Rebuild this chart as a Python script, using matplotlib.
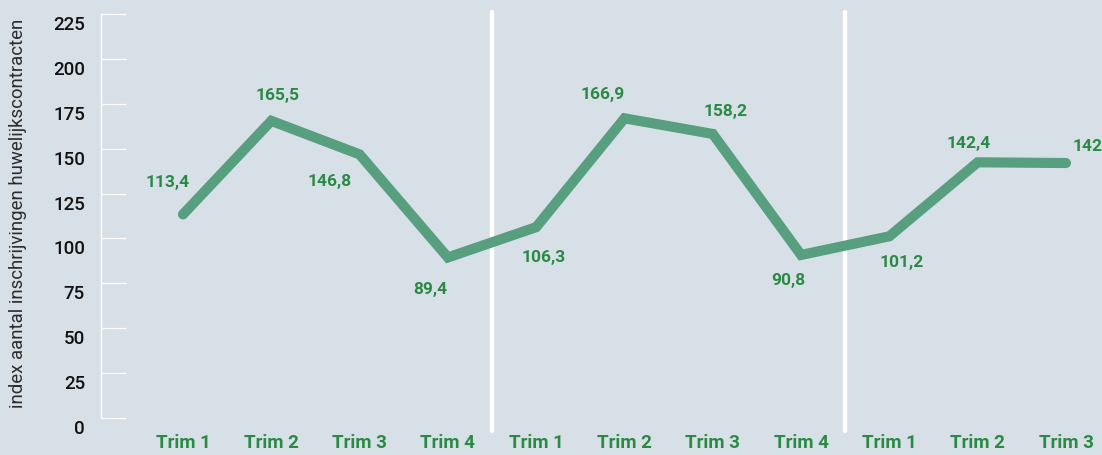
import matplotlib
matplotlib.use("Agg")
import matplotlib.pyplot as plt
from matplotlib.transforms import ScaledTranslation

# ---- data ----
categories = ["Trim 1", "Trim 2", "Trim 3", "Trim 4",
              "Trim 1", "Trim 2", "Trim 3", "Trim 4",
              "Trim 1", "Trim 2", "Trim 3"]
values = [113.4, 165.5, 146.8, 89.4, 106.3, 166.9, 158.2, 90.8, 101.2, 142.4, 142.0]
value_labels = ["113,4", "165,5", "146,8", "89,4", "106,3", "166,9",
                "158,2", "90,8", "101,2", "142,4", "142,0"]
yticks = [0, 25, 50, 75, 100, 125, 150, 175, 200, 225]
year_breaks = [3.5, 7.5]
ylabel = "index aantal inschrijvingen huwelijkscontracten"

# label offsets in pixels (dx, dy; dy positive = up)
label_offsets = [(-15, 33), (6, 26), (-30, -26), (-18, -31), (7, -29),
                 (-22, 25), (13, 23), (-13, -25), (12, -25), (-9, 20), (29, 18)]

BG = "#d8e0e7"
LINE = "#579f7e"
TXT = "#2a8a45"

plt.rcParams['font.family'] = ['Roboto', 'DejaVu Sans']

W, H = 1102, 456
fig = plt.figure(figsize=(W / 100, H / 100), dpi=100, facecolor=BG)
x_left, x_right = 101, 1102
y_top, y_bot = 15, 419
ax = fig.add_axes([x_left / W, (H - y_bot) / H, (x_right - x_left) / W, (y_bot - y_top) / H])
ax.set_facecolor(BG)

x0, dx = 183, 88.3
ax.set_xlim((x_left - x0) / dx, (x_right - x0) / dx)
ax.set_ylim(0, 225)

xs = list(range(len(values)))

for xb in year_breaks:
    ax.axvline(xb, ymin=-13 / 404, ymax=406 / 404, color="white", lw=3.2,
               solid_capstyle="round", clip_on=False, zorder=2)

ax.plot(xs, values, color=LINE, lw=7.3, solid_capstyle="round",
        solid_joinstyle="miter", clip_on=False, zorder=3)

for x, v, lab, (ox, oy) in zip(xs, values, value_labels, label_offsets):
    ax.annotate(lab, (x, v), xytext=(ox * 0.72, oy * 0.72), textcoords="offset points",
                ha="center", va="center", color=TXT, fontsize=12.5,
                fontweight="bold", annotation_clip=False, zorder=4)

# spines
for s in ["top", "right", "bottom"]:
    ax.spines[s].set_visible(False)
ax.spines["left"].set_color("white")
ax.spines["left"].set_linewidth(1.0)

ax.set_yticks(yticks)
ax.set_yticklabels([str(t) for t in yticks])
ax.tick_params(axis="y", direction="in", length=18, width=0.9, color="white",
               pad=11.5, labelsize=13.5, labelcolor="#111111")
for lab in ax.get_yticklabels():
    lab.set_fontweight("medium")
    lab.set_transform(lab.get_transform() + ScaledTranslation(0, -8 / 100, fig.dpi_scale_trans))

ax.set_xticks(xs)
ax.set_xticklabels(categories)
ax.tick_params(axis="x", length=0, pad=11, labelsize=13.5, labelcolor=TXT)
for lab in ax.get_xticklabels():
    lab.set_fontweight("bold")

fig.text(18 / W, 1 - 213 / H, ylabel, rotation=90, ha="center", va="center",
         fontsize=13.4, color="#2b2b2b")

fig.savefig("out.png", dpi=100, facecolor=BG)
